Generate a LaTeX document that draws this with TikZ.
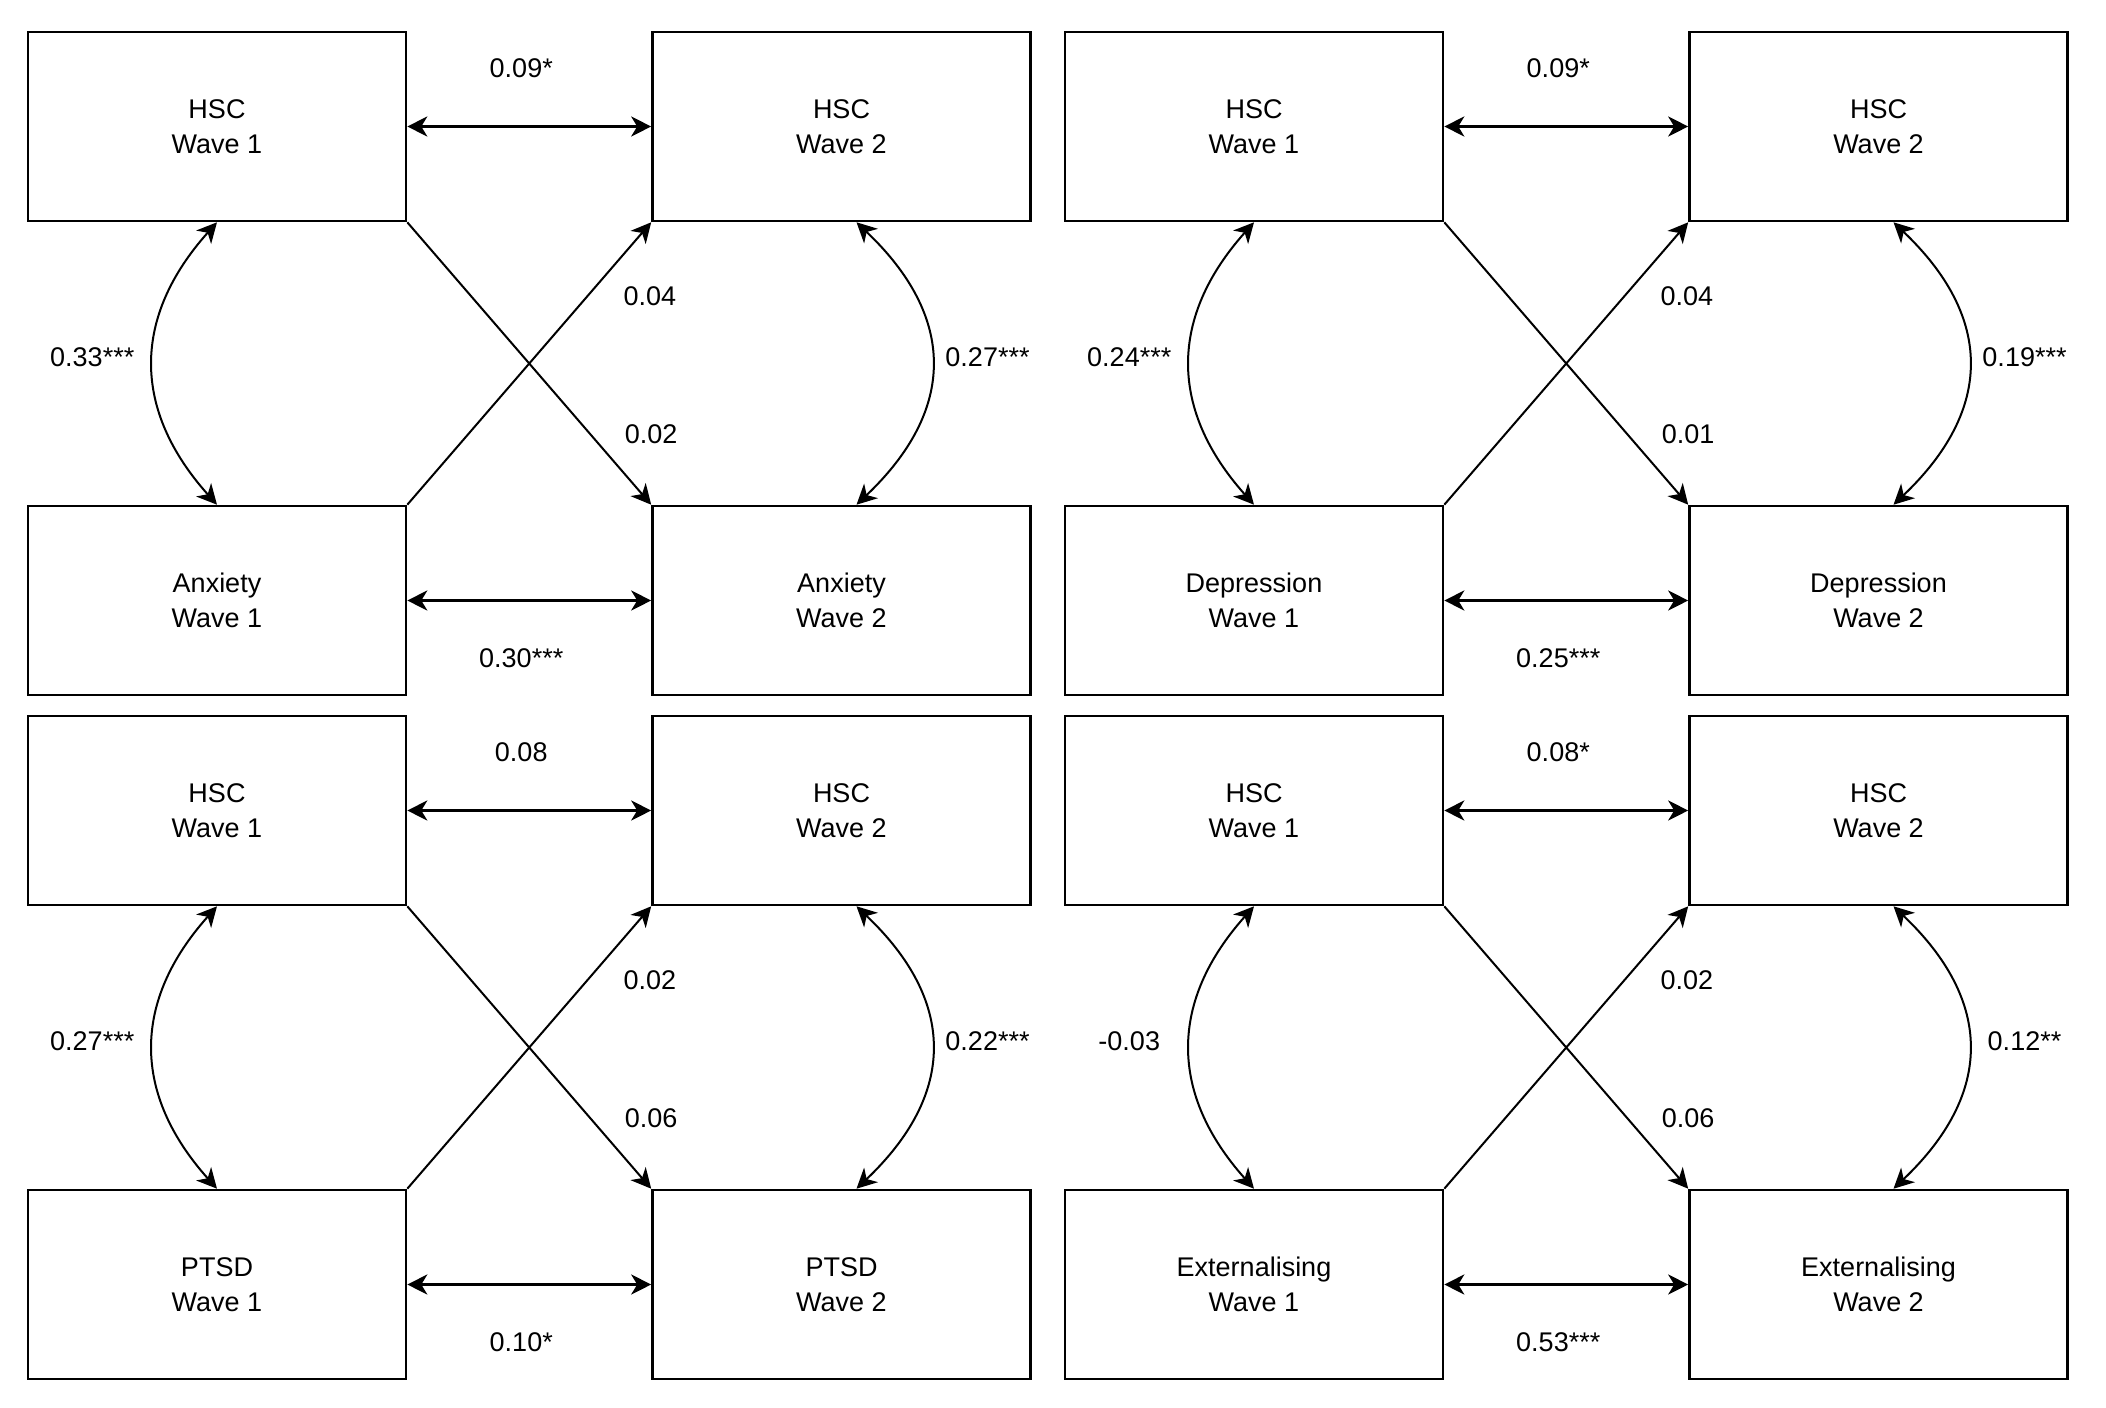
\documentclass[tikz,border=0pt]{standalone}
\usepackage{fontspec}
\setmainfont{Liberation Sans}
\usetikzlibrary{arrows.meta}
\tikzset{
  >={Stealth[length=10pt,width=10pt,inset=3pt]},
  varbox/.style={draw, line width=1.3pt, minimum width=189pt, minimum height=94.5pt,
    align=center, inner sep=0pt, font=\fontsize{13.5}{17.5}\selectfont},
  est/.style={inner sep=0pt, font=\fontsize{13.5}{17.5}\selectfont},
  twoway/.style={<->, line width=1.3pt},
  corr/.style={<->, line width=1pt},
  oneway/.style={->, line width=1pt}
}
\begin{document}
\begin{tikzpicture}[x=0.5pt,y=-0.5pt]
    \useasboundingbox[fill=white] (0,0) rectangle (2106,1408);
    \foreach \pn/\px/\py/\vname/\rhsc/\rvar/\rwa/\rwb/\lagv/\lagh in {
      a/28/32/Anxiety/0.09*/0.30***/0.33***/0.27***/0.04/0.02,
      d/1065/32/Depression/0.09*/0.25***/0.24***/0.19***/0.04/0.01,
      p/28/716/PTSD/0.08/0.10*/0.27***/0.22***/0.02/0.06,
      e/1065/716/Externalising/0.08*/0.53***/-0.03/0.12**/0.02/0.06}
    {
      \node[varbox] (\pn h1) at (\px+189,\py+94.5) {HSC\\Wave 1};
      \node[varbox] (\pn h2) at (\px+813.5,\py+94.5) {HSC\\Wave 2};
      \node[varbox] (\pn v1) at (\px+189,\py+568.5) {\vname\\Wave 1};
      \node[varbox] (\pn v2) at (\px+813.5,\py+568.5) {\vname\\Wave 2};
      \draw[twoway] (\pn h1.east) -- node[est, xshift=-4pt, yshift=29pt] {\rhsc} (\pn h2.west);
      \draw[twoway] (\pn v1.east) -- node[est, xshift=-4pt, yshift=-29pt] {\rvar} (\pn v2.west);
      \draw[corr] (\pn h1.south) .. controls +(-85,95) and +(-85,-95) .. node[est, xshift=-30.5pt, yshift=3pt] {\rwa} (\pn v1.north);
      \draw[corr] ([xshift=7.5pt]\pn h2.south) .. controls +(100,95) and +(100,-95) .. node[est, xshift=28pt, yshift=3pt] {\rwb} ([xshift=7.5pt]\pn v2.north);
      \draw[oneway] (\pn v1.north east) -- node[est, pos=0.74, xshift=31pt] {\lagv} (\pn h2.south west);
      \draw[oneway] (\pn h1.south east) -- node[est, pos=0.75, xshift=30.5pt] {\lagh} (\pn v2.north west);
    }
\end{tikzpicture}
\end{document}
